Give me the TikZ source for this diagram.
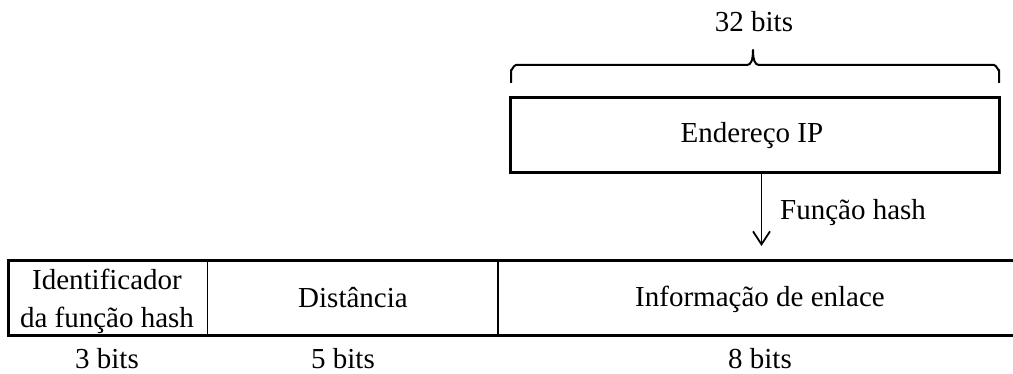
\documentclass[tikz,border=0pt]{standalone}
\usepackage{fontspec}
\setmainfont{Liberation Serif}
\usetikzlibrary{arrows.meta}
\begin{document}
\begin{tikzpicture}[x=1pt,y=-1pt,
  txt/.style={inner sep=0pt,anchor=base,font=\fontsize{29}{37}\selectfont},
  thick box/.style={line width=3pt},
  divider/.style={line width=1.8pt},
  bracestyle/.style={line width=2pt,line join=round},
  hasharrow/.style={line width=1.8pt,-{Straight Barb[length=13pt,width=17pt,line width=1.8pt]}}]
  \useasboundingbox (0,0) rectangle (1013,374);

  % IP address block with its width brace
  \node[draw,thick box,minimum width=489pt,minimum height=75pt,inner sep=0pt]
    (ip) at (755,135) {};
  \node[txt] (iplbl) at (752,143) {Endereço IP};
  \coordinate (bl) at (511,83);
  \coordinate (br) at (999,83);
  \coordinate (btip) at (753,50);
  \draw[bracestyle]
    (bl) -- (511,70) to[out=-90,in=180] (516,65) -- (747,65)
    .. controls (751,65) and (753,60) .. (btip)
    .. controls (753,60) and (755,65) .. (759,65)
    -- (994,65) to[out=0,in=-90] (999,70) -- (br);
  \node[txt] (w32) at (754,32) {32 bits};

  % hash arrow into the record
  \coordinate (atip) at (761.5,246);
  \draw[hasharrow] (ip.south -| atip) -- (atip);
  \node[txt,anchor=base west] (hash) at (780,220) {Função hash};

  % record fields (right side left open)
  \coordinate (tl) at (8,260.5);
  \coordinate (bl2) at (8,335.5);
  \coordinate (tr) at (1013,260.5);
  \coordinate (br2) at (1013,335.5);
  \draw[thick box] (tr) -- (tl) -- (bl2) -- (br2);
  \coordinate (d1t) at (207.5,260.5);
  \coordinate (d1b) at (207.5,335.5);
  \coordinate (d2t) at (498,260.5);
  \coordinate (d2b) at (498,335.5);
  \draw[divider] (d1t) -- (d1b);
  \draw[divider] (d2t) -- (d2b);

  \node[txt] (f1a) at (107,290) {Identificador};
  \node[txt] (f1b) at (107,328) {da função hash};
  \node[txt] (f2) at (353,308) {Distância};
  \node[txt] (f3) at (760,307) {Informação de enlace};

  \node[txt] (b1) at (107,368) {3 bits};
  \node[txt] (b2) at (343,368) {5 bits};
  \node[txt] (b3) at (760,368) {8 bits};
\end{tikzpicture}
\end{document}
